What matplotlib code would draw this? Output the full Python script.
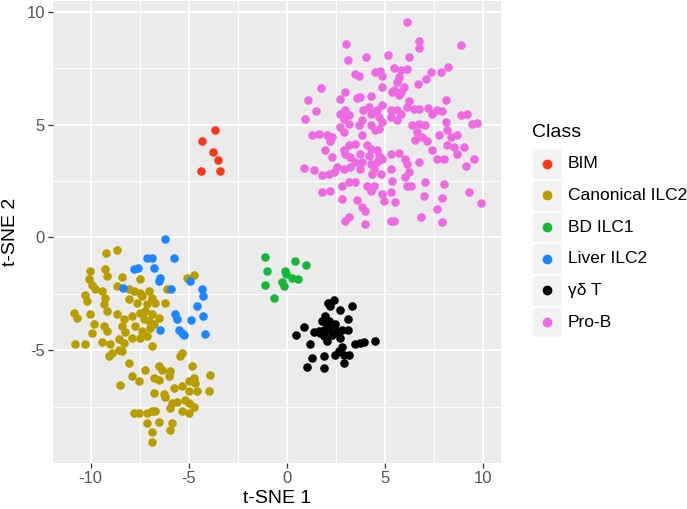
import numpy as np
import matplotlib
matplotlib.use("Agg")
import matplotlib.pyplot as plt
from matplotlib.patches import Rectangle

plt.rcParams['font.family'] = ['Liberation Sans', 'DejaVu Sans']
plt.rcParams['axes.unicode_minus'] = False

classes = ['BIM', 'Canonical ILC2', 'BD ILC1', 'Liver ILC2', 'γδ T', 'Pro-B']
colors = ['#F9371A', '#B89E00', '#17B83A', '#1C86FF', '#000000', '#EE6AE2']

# t-SNE coordinates
bim_x = [-3.65, -4.33, -3.74, -3.52, -4.38, -3.40]
bim_y = [4.78, 4.27, 3.78, 3.44, 2.95, 2.94]

canon_x = [-9.21, -8.65, -10.01, -9.25, -9.17, -8.40, -7.46, -10.10, -9.93, -9.76,
           -9.42, -9.25, -8.65, -8.06, -7.80, -7.46, -7.38, -7.04, -6.87, -6.10,
           -5.08, -4.74, -10.27, -10.18, -9.33, -8.06, -7.63, -7.12, -6.70, -6.19,
           -10.86, -10.69, -10.01, -9.17, -8.65, -8.31, -7.89, -7.46, -7.21, -6.87,
           -7.29, -7.04, -6.78, -6.53, -9.84, -9.33, -9.17, -8.40, -8.23, -7.72,
           -7.38, -6.95, -7.12, -7.46, -7.89, -8.57, -9.42, -10.77, -10.27, -9.00,
           -6.87, -9.93,
           -8.31, -8.91, -8.57, -8.40, -9.08, -5.34, -5.42, -8.06, -7.89, -7.21,
           -6.53, -6.36, -5.93, -6.02, -6.78, -6.53, -7.55, -8.48, -4.83, -4.74,
           -5.00, -4.66, -3.89, -5.34, -5.76, -5.00, -3.97, -4.57, -6.78, -6.27,
           -6.19, -5.85, -5.59, -5.17, -5.00, -4.74, -5.93, -5.34, -5.00, -7.80,
           -7.55, -7.12, -6.87, -6.70, -5.85, -6.53, -7.12, -6.87, -5.93, -6.87]
canon_y = [-0.69, -0.55, -1.48, -1.41, -1.70, -1.74, -1.82, -1.85, -2.12, -2.27,
           -2.37, -2.67, -2.15, -2.30, -2.37, -2.45, -2.59, -2.37, -2.67, -2.30,
           -1.78, -1.67, -2.56, -2.82, -2.96, -2.74, -2.89, -2.96, -2.89, -2.89,
           -3.36, -3.56, -3.41, -3.26, -3.41, -3.63, -3.48, -3.34, -3.26, -3.41,
           -3.63, -3.71, -3.85, -3.56, -3.85, -3.93, -4.15, -3.93, -4.20, -3.93,
           -4.15, -4.00, -4.37, -4.45, -4.45, -4.52, -4.64, -4.74, -4.74, -4.70,
           -4.82, -4.23,
           -4.67, -5.12, -4.97, -5.04, -5.27, -5.12, -5.27, -5.56, -6.15, -5.86,
           -5.71, -5.86, -5.93, -6.15, -6.23, -6.30, -6.38, -6.53, -5.71, -6.23,
           -6.38, -6.45, -6.08, -6.60, -6.68, -6.82, -6.79, -6.82, -6.90, -6.94,
           -7.09, -7.34, -7.27, -7.19, -7.34, -7.49, -7.57, -7.71, -7.79, -7.76,
           -7.79, -7.79, -7.71, -7.71, -8.23, -8.16, -8.23, -8.60, -8.53, -9.05]

bd_x = [-1.10, -1.02, -1.12, -0.63, 0.41, 0.99, -0.12, -0.03, 0.26, 0.58, -0.25, -0.17]
bd_y = [-0.85, -1.47, -2.10, -2.67, -1.05, -1.23, -1.48, -1.63, -1.81, -1.85, -1.96, -2.14]

liver_x = [-6.19, -7.12, -6.87, -5.76, -7.80, -7.58, -6.78, -6.44, -6.53, -4.91,
           -5.88, -8.36, -4.32, -4.27, -4.57, -5.68, -5.59, -4.86, -4.27, -6.44,
           -5.51, -5.34, -5.25, -4.18]
liver_y = [-0.07, -0.93, -0.89, -0.93, -1.41, -1.36, -1.33, -1.78, -1.93, -1.93,
           -2.27, -2.22, -2.30, -2.59, -3.04, -3.41, -3.63, -3.66, -3.48, -4.08,
           -4.08, -4.23, -4.30, -4.27]

gd_x = [2.08, 2.38, 2.21, 2.69, 3.32, 3.10, 1.96, 1.79, 2.13, 2.05,
        2.47, 0.85, 0.48, 1.36, 1.62, 1.87, 2.21, 2.30, 2.56, 2.81,
        3.10, 2.72, 1.87, 1.70, 1.19, 3.49, 3.74, 3.91, 4.47, 2.81,
        2.64, 2.47, 2.89, 3.15, 1.87, 1.28, 2.38, 2.05, 1.00, 1.90, 2.90]
gd_y = [-2.89, -2.79, -3.04, -3.23, -3.05, -3.59, -3.48, -3.71, -3.71, -3.93,
        -3.83, -3.97, -4.30, -4.18, -4.15, -4.12, -4.08, -4.30, -4.15, -4.12,
        -4.12, -4.45, -4.37, -4.23, -4.74, -4.74, -4.67, -4.63, -4.60, -4.86,
        -5.04, -5.19, -5.19, -5.22, -5.27, -5.34, -4.23, -4.60, -5.75, -5.80, -5.55]

prob_x = [6.11, 6.75, 6.75, 8.88, 3.01, 3.10, 4.04, 5.14, 6.24, 3.45,
          3.69, 4.51, 4.73, 4.85, 5.44, 5.79, 6.13, 5.70, 5.62, 6.67,
          7.11, 7.35, 7.83, 8.20, 1.74, 2.94, 4.85, 5.44, 5.79, 5.95,
          1.08, 2.69, 3.58, 3.74, 4.26, 5.70, 5.36, 6.21, 8.08, 1.50,
          2.98, 3.88, 4.17, 4.60, 4.85, 5.28, 5.62, 6.13, 6.47, 6.72,
          7.18, 7.66, 7.91,
          0.94, 2.72, 2.89, 3.15, 3.83, 4.26, 4.68, 5.28, 5.62, 5.79,
          6.38, 6.72, 7.06, 7.40, 8.08, 8.17, 8.85, 9.19, 9.44, 9.70,
          1.28, 1.62, 2.05, 2.30, 2.21, 2.72, 2.89, 3.15, 3.66, 3.83,
          4.26, 4.51, 4.68, 4.85, 6.64, 6.89, 7.15, 7.74, 8.34, 8.68,
          8.51, 6.55,
          1.96, 2.30, 2.89, 3.15, 3.49, 4.09, 4.26, 4.60, 4.68, 4.85,
          4.17, 3.74, 3.24, 2.98, 3.49, 3.83, 4.26, 4.60, 5.28, 5.70,
          6.04, 6.13, 6.72, 7.40, 7.66, 7.99, 8.17, 8.68, 9.02, 9.53,
          0.85, 1.36, 1.79, 2.13, 2.38, 2.56, 2.89, 3.24, 3.74, 4.42,
          4.34, 4.77, 5.28, 6.21, 5.36, 6.04, 9.10, 6.13,
          1.79, 2.21, 2.81, 3.15, 3.49, 4.09, 4.26, 4.42, 4.85, 5.28,
          4.93, 5.53, 6.30, 7.06, 6.97, 7.99, 7.91, 9.27, 9.87, 2.81,
          3.58, 3.83, 3.99,
          3.15, 2.98, 3.99, 5.28, 5.44, 6.81, 7.66, 7.91]
prob_y = [9.55, 8.71, 8.38, 8.54, 8.56, 7.85, 8.01, 8.09, 8.01, 7.23,
          7.15, 7.34, 7.37, 7.17, 7.49, 7.42, 7.45, 7.12, 6.90, 6.80,
          7.02, 7.33, 7.33, 7.57, 6.63, 6.45, 6.67, 6.53, 6.45, 6.67,
          6.08, 6.14, 6.20, 6.23, 6.26, 6.30, 6.45, 6.05, 6.08, 5.61,
          5.64, 5.67, 5.79, 5.64, 5.86, 5.64, 5.64, 5.79, 5.71, 5.71,
          5.76, 5.64, 5.60,
          5.27, 5.49, 5.27, 5.42, 5.19, 5.49, 5.34, 5.34, 5.19, 5.49,
          4.97, 5.05, 4.97, 5.49, 5.12, 4.75, 5.42, 5.49, 5.05, 5.07,
          4.53, 4.60, 4.53, 4.45, 4.27, 4.90, 4.67, 5.05, 4.97, 4.53,
          4.97, 4.75, 4.82, 5.12, 4.67, 4.45, 4.27, 4.53, 4.45, 4.53,
          4.01, 4.30,
          3.89, 3.56, 3.86, 4.08, 4.16, 4.08, 3.93, 3.86, 3.63, 3.49,
          3.63, 3.71, 3.56, 3.71, 3.34, 3.34, 3.27, 3.34, 3.71, 3.74,
          3.49, 3.27, 3.34, 3.86, 3.49, 3.49, 4.08, 3.71, 4.01, 3.49,
          3.09, 2.97, 2.75, 2.82, 2.89, 3.12, 3.04, 3.12, 3.04, 3.04,
          2.82, 2.82, 3.04, 2.89, 2.52, 2.67, 3.15, 2.30,
          2.00, 2.08, 2.26, 2.45, 2.45, 2.30, 2.08, 2.30, 1.93, 2.00,
          1.63, 1.56, 2.30, 2.45, 1.86, 2.38, 1.75, 2.00, 1.51, 1.71,
          1.66, 1.34, 1.19,
          0.89, 0.74, 0.60, 0.74, 0.74, 0.92, 1.26, 0.67]

xs = [bim_x, canon_x, bd_x, liver_x, gd_x, prob_x]
ys = [bim_y, canon_y, bd_y, liver_y, gd_y, prob_y]

W, H = 687, 509
fig = plt.figure(figsize=(W / 100, H / 100), dpi=100)
ax = fig.add_axes([53.3 / W, 1 - 462.7 / H, (501 - 53.3) / W, (462.7 - 1) / H])
ax.set_facecolor('#EBEBEB')

for cx, cy, col in zip(xs, ys, colors):
    ax.scatter(cx, cy, s=38, color=col, linewidths=0, zorder=3)

# ggplot style 5% expansion
allx = np.concatenate([np.array(v) for v in xs])
ally = np.concatenate([np.array(v) for v in ys])
dx = (allx.max() - allx.min()) * 0.05
dy = (ally.max() - ally.min()) * 0.05
ax.set_xlim(allx.min() - dx, allx.max() + dx)
ax.set_ylim(ally.min() - dy, ally.max() + dy)

ax.set_xticks([-10, -5, 0, 5, 10])
ax.set_yticks([-5, 0, 5, 10])
ax.set_xticks([-7.5, -2.5, 2.5, 7.5], minor=True)
ax.set_yticks([-7.5, -2.5, 2.5, 7.5], minor=True)
ax.grid(True, which='major', color='white', linewidth=1.4, zorder=0)
ax.grid(True, which='minor', color='white', linewidth=0.7, zorder=0)
ax.set_axisbelow(True)
for sp in ax.spines.values():
    sp.set_visible(False)
ax.tick_params(which='major', length=3.6, width=0.9, color='#333333',
               labelsize=12, labelcolor='#555555', pad=2.5)
ax.tick_params(which='minor', length=0)

ax.set_xlabel('t-SNE 1', fontsize=14, labelpad=3)
ax.set_ylabel('t-SNE 2', fontsize=14, labelpad=5)

# legend, drawn by hand to get the grey ggplot key boxes
fig.text(532 / W, 1 - 133 / H, 'Class', fontsize=14, va='center', ha='left')
for i, (lab, col) in enumerate(zip(classes, colors)):
    top = 148.3 + i * 31.7
    fig.patches.append(Rectangle((532.3 / W, 1 - (top + 30.5) / H), 29.4 / W, 30.5 / H,
                                 transform=fig.transFigure, facecolor='#F2F2F2',
                                 edgecolor='white', linewidth=1))
    fig.lines.append(plt.Line2D([547 / W], [1 - (top + 15.3) / H], marker='o',
                                markersize=6, color=col, linestyle='none',
                                transform=fig.transFigure))
    fig.text(568 / W, 1 - (top + 15.3) / H, lab, fontsize=12.5, va='center', ha='left')

fig.savefig('out.png', dpi=100)
